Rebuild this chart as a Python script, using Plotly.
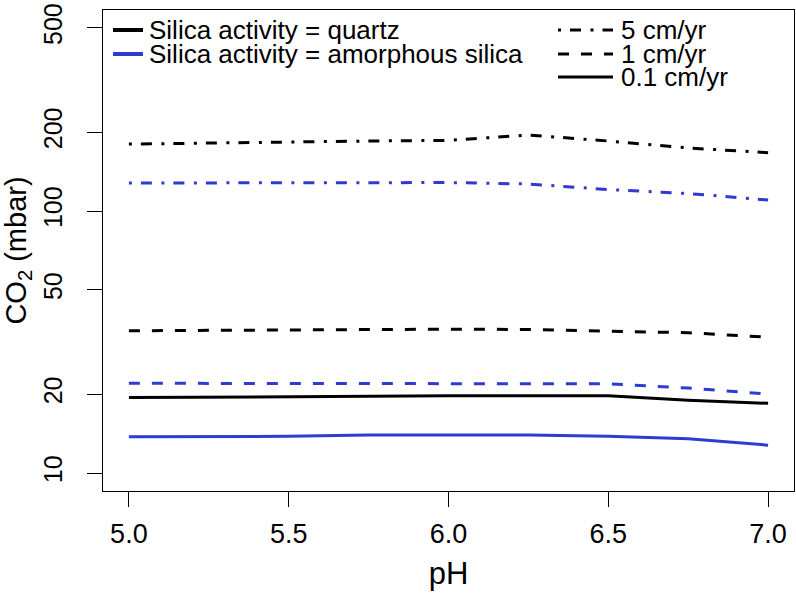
import plotly.graph_objects as go

# ---------------- data ----------------
ph = [5.0, 5.25, 5.5, 5.75, 6.0, 6.25, 6.5, 6.75, 7.0]

quartz_5cm = [180, 182, 184, 185, 186, 195, 185, 174, 167]
quartz_1cm = [34.9, 35.0, 35.3, 35.4, 35.4, 35.3, 34.9, 34.3, 33.0]
quartz_01cm = [19.4, 19.5, 19.55, 19.6, 19.7, 19.7, 19.7, 18.95, 18.45]

amorph_5cm = [127.9, 128.2, 128.4, 128.4, 128.4, 126.8, 120.8, 116.6, 110.1]
amorph_1cm = [22.0, 22.0, 22.0, 22.0, 22.0, 22.0, 21.9, 21.1, 20.0]
amorph_01cm = [13.76, 13.78, 13.8, 13.96, 13.96, 13.96, 13.8, 13.52, 12.77]

x_ticks = [5.0, 5.5, 6.0, 6.5, 7.0]
x_tick_labels = ["5.0", "5.5", "6.0", "6.5", "7.0"]
y_ticks = [10, 20, 50, 100, 200, 500]
y_tick_labels = ["10", "20", "50", "100", "200", "500"]

silica_labels = ["Silica activity = quartz", "Silica activity = amorphous silica"]
rate_labels = ["5 cm/yr", "1 cm/yr", "0.1 cm/yr"]

# ---------------- styles ----------------
BLACK = "#000000"
BLUE = "#2E3BD1"
LW = 3
DASHDOT = "3px,9px,11px,9.5px"
DASHED = "11px,12px"
FONT = "Liberation Sans, Arial, Helvetica, sans-serif"

W, H = 796, 594
L, R, T, B = 103, 2, 10, 103

fig = go.Figure()

series = [
    (quartz_5cm, BLACK, DASHDOT),
    (amorph_5cm, BLUE, DASHDOT),
    (quartz_1cm, BLACK, DASHED),
    (amorph_1cm, BLUE, DASHED),
    (quartz_01cm, BLACK, "solid"),
    (amorph_01cm, BLUE, "solid"),
]
for ys, col, dash in series:
    fig.add_trace(go.Scatter(x=ph, y=ys, mode="lines",
                             line=dict(color=col, width=LW, dash=dash),
                             showlegend=False, hoverinfo="skip"))

fig.update_xaxes(range=[4.919, 7.081], tickvals=x_ticks, ticktext=x_tick_labels,
                 showline=True, linecolor="black", linewidth=1.3, mirror=True,
                 ticks="outside", ticklen=15, tickwidth=1.3, tickcolor="black",
                 showgrid=False, zeroline=False,
                 tickfont=dict(family=FONT, size=27, color="black"),
                 ticklabelstandoff=3,
                 title=dict(text="pH", font=dict(family=FONT, size=31, color="black"),
                            standoff=14))
fig.update_yaxes(type="log", range=[0.9313, 2.7672], tickvals=y_ticks, ticktext=y_tick_labels,
                 showline=True, linecolor="black", linewidth=1.3, mirror=True,
                 ticks="outside", ticklen=15, tickwidth=1.3, tickcolor="black",
                 showgrid=False, zeroline=False, tickangle=-90,
                 tickfont=dict(family=FONT, size=25, color="black"),
                 ticklabelstandoff=15,
                 title=dict(text="CO<sub>2</sub> (mbar)", font=dict(family=FONT, size=29, color="black"),
                            standoff=8))

# legend drawn manually in paper coordinates
pw, ph_ = W - L - R, H - T - B
def px_x(p):
    return (p - L) / pw
def px_y(p):
    return 1 - (p - T) / ph_

shapes = []
annotations = []
leg_font = dict(family=FONT, size=26, color="black")
row_y = [30, 54, 77]
for i, (lab, col) in enumerate(zip(silica_labels, [BLACK, BLUE])):
    shapes.append(dict(type="line", xref="paper", yref="paper",
                       x0=px_x(113), x1=px_x(143), y0=px_y(row_y[i]), y1=px_y(row_y[i]),
                       line=dict(color=col, width=4)))
    annotations.append(dict(text=lab, xref="paper", yref="paper", x=px_x(147), y=px_y(row_y[i]),
                            xanchor="left", yanchor="middle", showarrow=False, font=leg_font))
for i, (lab, dash) in enumerate(zip(rate_labels, [DASHDOT, DASHED, "solid"])):
    shapes.append(dict(type="line", xref="paper", yref="paper",
                       x0=px_x(558), x1=px_x(613), y0=px_y(row_y[i]), y1=px_y(row_y[i]),
                       line=dict(color=BLACK, width=LW, dash=dash)))
    annotations.append(dict(text=lab, xref="paper", yref="paper", x=px_x(619), y=px_y(row_y[i]),
                            xanchor="left", yanchor="middle", showarrow=False, font=leg_font))

fig.update_layout(width=W, height=H, margin=dict(l=L, r=R, t=T, b=B, pad=0),
                  plot_bgcolor="white", paper_bgcolor="white",
                  shapes=shapes, annotations=annotations,
                  font=dict(family=FONT, color="black"))

# remove the browser's default 8px page margin so the figure sits at (0, 0)
fig.write_html("out.html", config={"displayModeBar": False},
               post_script="document.body.style.margin='0px';")
